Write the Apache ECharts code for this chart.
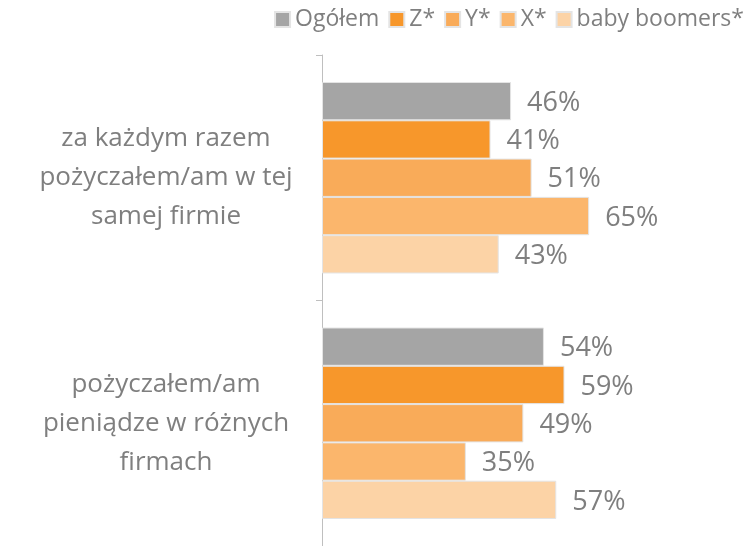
<!DOCTYPE html>
<html>
<head>
<meta charset="utf-8">
<script src="https://cdn.jsdelivr.net/npm/echarts@6/dist/echarts.min.js"></script>
<style>
  html, body { margin: 0; padding: 0; background: #fff; }
  #chart { width: 753px; height: 546px; }
</style>
</head>
<body>
<div id="chart"></div>
<script>
var categories = [
    'za każdym razem\npożyczałem/am w tej\nsamej firmie',
    'pożyczałem/am\npieniądze w różnych\nfirmach'
];
var seriesNames = ['Ogółem', 'Z*', 'Y*', 'X*', 'baby boomers*'];
var ogolem = [46, 54];
var genZ = [41, 59];
var genY = [51, 49];
var genX = [65, 35];
var boomers = [43, 57];
var colors = ['#a5a5a5', '#f7972b', '#f9ab59', '#fbb66c', '#fcd3a6'];

var allValues = [ogolem, genZ, genY, genX, boomers];
var textColor = '#7f7f7f';
var fontFam = '"Open Sans", "Noto Sans", sans-serif';

var chart = echarts.init(document.getElementById('chart'));

var series = seriesNames.map(function (name, i) {
    return {
        name: name,
        type: 'bar',
        data: allValues[i],
        barGap: '0%',
        barCategoryGap: '22%',
        itemStyle: {
            color: colors[i],
            borderColor: '#e4e4e4',
            borderWidth: 1
        },
        label: {
            show: true,
            position: 'right',
            distance: 16,
            offset: [0, 2],
            formatter: '{c}%',
            color: textColor,
            fontSize: 27,
            fontFamily: fontFam
        }
    };
});

var option = {
    animation: false,
    legend: {
        data: seriesNames,
        top: 3,
        right: 4,
        itemWidth: 15,
        itemHeight: 15,
        itemGap: 9,
        icon: 'rect',
        textStyle: {
            color: textColor,
            fontSize: 23,
            fontFamily: fontFam
        }
    },
    grid: {
        left: 322,
        right: 20,
        top: 55,
        bottom: 0
    },
    xAxis: {
        type: 'value',
        min: 0,
        max: 100,
        show: false
    },
    yAxis: {
        type: 'category',
        inverse: true,
        data: categories,
        axisLine: { lineStyle: { color: '#bfbfbf' } },
        axisTick: { show: true, length: 6, lineStyle: { color: '#bfbfbf' } },
        axisLabel: {
            align: 'center',
            margin: 156,
            color: textColor,
            fontSize: 26,
            lineHeight: 39,
            fontFamily: fontFam
        }
    },
    series: series
};

chart.setOption(option);
</script>
</body>
</html>
